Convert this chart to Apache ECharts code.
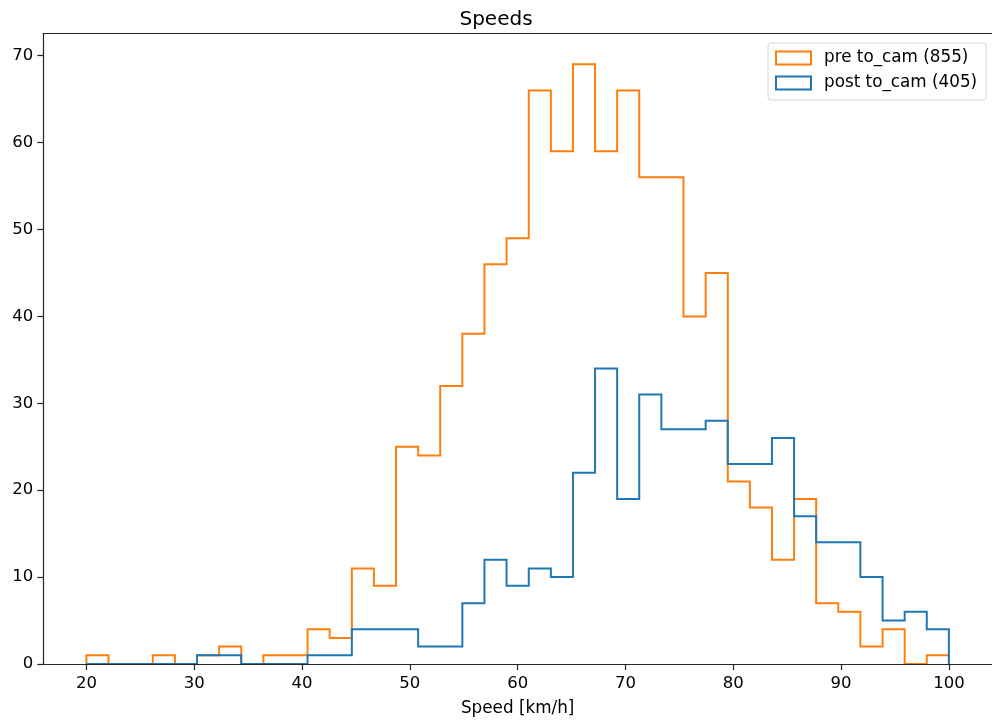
<!DOCTYPE html>
<html>
<head>
<meta charset="utf-8">
<title>Speeds</title>
<script src="https://cdn.jsdelivr.net/npm/echarts@6/dist/echarts.min.js"></script>
<style>
  html, body { margin: 0; padding: 0; background: #fff; }
  #chart { width: 992px; height: 723px; }
</style>
</head>
<body>
<div id="chart"></div>
<script>
// Histogram bin edges shared by both series (39 bins, 20–100 km/h)
const binEdges = [
  20.00, 22.05, 24.10, 26.15, 28.21, 30.26, 32.31, 34.36, 36.41, 38.46,
  40.51, 42.56, 44.62, 46.67, 48.72, 50.77, 52.82, 54.87, 56.92, 58.97,
  61.03, 63.08, 65.13, 67.18, 69.23, 71.28, 73.33, 75.38, 77.44, 79.49,
  81.54, 83.59, 85.64, 87.69, 89.74, 91.79, 93.85, 95.90, 97.95, 100.00
];

// Counts per bin
const preCounts = [
  1, 0, 0, 1, 0, 1, 2, 0, 1, 1,
  4, 3, 11, 9, 25, 24, 32, 38, 46, 49,
  66, 59, 69, 59, 66, 56, 56, 40, 45, 21,
  18, 12, 19, 7, 6, 2, 4, 0, 1
];
const postCounts = [
  0, 0, 0, 0, 0, 1, 1, 0, 0, 0,
  1, 1, 4, 4, 4, 2, 2, 7, 12, 9,
  11, 10, 22, 34, 19, 31, 27, 27, 28, 23,
  23, 26, 17, 14, 14, 10, 5, 6, 4
];

const seriesNames = ['pre to_cam (855)', 'post to_cam (405)'];
const seriesColors = ['#ff7f0e', '#1f77b4'];

const xTicks = [20, 30, 40, 50, 60, 70, 80, 90, 100];
const yTicks = [0, 10, 20, 30, 40, 50, 60, 70];

// Step outline of a histogram: up the first edge, across each bin, down the last edge
function stepOutline(edges, counts) {
  const pts = [[edges[0], 0]];
  for (let i = 0; i < counts.length; i++) {
    pts.push([edges[i], counts[i]]);
    pts.push([edges[i + 1], counts[i]]);
  }
  pts.push([edges[edges.length - 1], 0]);
  return pts;
}

const FONT = 'DejaVu Sans';
const AXIS_COLOR = '#262626';
const X_MIN = 16, X_MAX = 104;

const chart = echarts.init(document.getElementById('chart'), null, { renderer: 'canvas' });

chart.setOption({
  animation: false,
  backgroundColor: '#ffffff',
  title: {
    text: 'Speeds',
    left: 'center',
    top: 5,
    textStyle: { fontFamily: FONT, fontSize: 20, fontWeight: 'normal', color: '#000' }
  },
  legend: {
    orient: 'vertical',
    left: 768,
    top: 43,
    padding: [6, 9, 8, 7],
    itemGap: 7,
    itemWidth: 35,
    itemHeight: 13,
    backgroundColor: 'rgba(255,255,255,0.85)',
    borderColor: '#d6d6d6',
    borderWidth: 1,
    borderRadius: 3,
    textStyle: { fontFamily: FONT, fontSize: 16.8, color: '#000', lineHeight: 18, padding: [0, 0, 0, 8] },
    data: seriesNames.map((n, i) => ({
      name: n,
      icon: 'rect',
      itemStyle: { color: '#ffffff', borderColor: seriesColors[i], borderWidth: 2 }
    }))
  },
  grid: {
    left: 43.3,
    top: 33.5,
    width: 950,
    height: 630.5,
    show: false
  },
  xAxis: [
    {
      type: 'value',
      min: X_MIN,
      max: X_MAX,
      z: 5,
      position: 'bottom',
      name: 'Speed [km/h]',
      nameLocation: 'middle',
      nameGap: 36,
      nameTextStyle: { fontFamily: FONT, fontSize: 16.8, color: '#000' },
      axisLine: { show: true, onZero: false, lineStyle: { color: AXIS_COLOR, width: 1.2 } },
      axisTick: { show: true, length: 6, customValues: xTicks, lineStyle: { color: AXIS_COLOR, width: 1.2 } },
      axisLabel: { customValues: xTicks, margin: 11, fontFamily: FONT, fontSize: 16.5, color: '#000' },
      splitLine: { show: false }
    },
    {
      // top frame line
      type: 'value',
      min: X_MIN,
      max: X_MAX,
      position: 'top',
      z: 5,
      axisLine: { show: true, onZero: false, lineStyle: { color: AXIS_COLOR, width: 1.2 } },
      axisTick: { show: false },
      axisLabel: { show: false },
      splitLine: { show: false }
    }
  ],
  yAxis: {
    type: 'value',
    min: 0,
    max: 72.55,
    z: 5,
    axisLine: { show: true, lineStyle: { color: AXIS_COLOR, width: 1.2 } },
    axisTick: { show: true, length: 6, customValues: yTicks, lineStyle: { color: AXIS_COLOR, width: 1.2 } },
    axisLabel: { customValues: yTicks, margin: 10, fontFamily: FONT, fontSize: 16.5, color: '#000' },
    splitLine: { show: false }
  },
  series: [
    {
      name: seriesNames[0],
      type: 'line',
      xAxisIndex: 0,
      data: stepOutline(binEdges, preCounts),
      showSymbol: false,
      symbol: 'none',
      color: seriesColors[0],
      lineStyle: { color: seriesColors[0], width: 2, join: 'miter' },
      z: 2
    },
    {
      name: seriesNames[1],
      type: 'line',
      xAxisIndex: 0,
      data: stepOutline(binEdges, postCounts),
      showSymbol: false,
      symbol: 'none',
      color: seriesColors[1],
      lineStyle: { color: seriesColors[1], width: 2, join: 'miter' },
      z: 3
    }
  ]
});
</script>
</body>
</html>
